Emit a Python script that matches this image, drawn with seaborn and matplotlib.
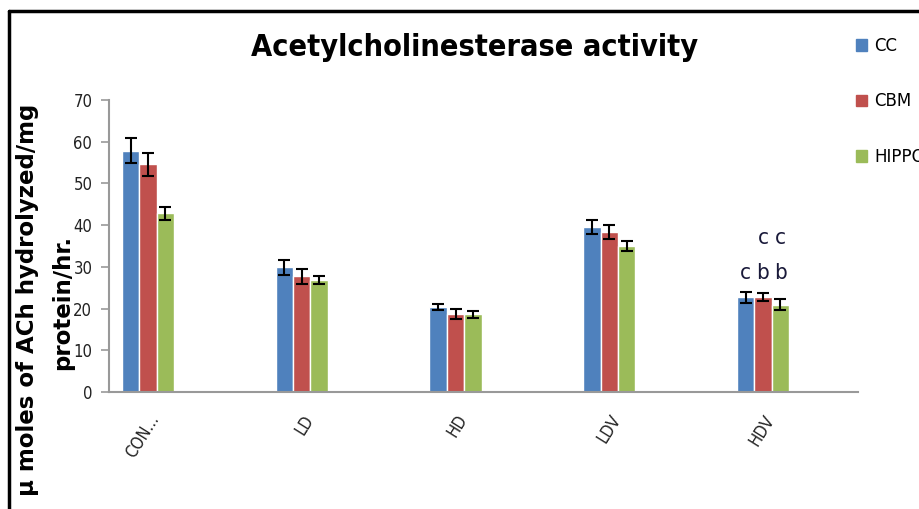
import numpy as np
import pandas as pd
import seaborn as sns
import matplotlib.pyplot as plt
from matplotlib.patches import Rectangle

# data
groups = ['CON...', 'LD', 'HD', 'LDV', 'HDV']
regions = ['CC', 'CBM', 'HIPPO']
cc = [57.8, 29.9, 20.4, 39.6, 22.7]
cbm = [54.6, 27.7, 18.6, 38.3, 22.7]
hippo = [42.8, 26.9, 18.6, 35.1, 20.9]
cc_err = [3.0, 1.8, 0.8, 1.7, 1.3]
cbm_err = [2.7, 1.7, 1.2, 1.7, 1.0]
hippo_err = [1.6, 1.0, 0.9, 1.2, 1.3]
colors = ['#4F81BD', '#C0504D', '#9BBB59']

# significance letters on HDV
letters_row1 = ['c', 'b', 'b']
letters_row2 = ['', 'c', 'c']

df = pd.DataFrame({
    'group': groups * 3,
    'region': sum([[r] * len(groups) for r in regions], []),
    'value': cc + cbm + hippo,
    'err': cc_err + cbm_err + hippo_err,
})

sns.set_style('white')
plt.rcParams['font.family'] = ['DejaVu Sans']
plt.rcParams['text.color'] = 'black'

fig = plt.figure(figsize=(9.2, 5.09), dpi=100)
ax = fig.add_axes([109 / 920, 1 - 392 / 509, (858 - 109) / 920, (392 - 100) / 509])

sns.barplot(data=df, x='group', y='value', hue='region', palette=colors,
            width=0.34, errorbar=None, saturation=1, ax=ax, legend=False)

# error bars on each bar
for i, r in enumerate(regions):
    sub = df[df['region'] == r]
    bars = ax.containers[i]
    xs = [b.get_x() + b.get_width() / 2 for b in bars]
    ax.errorbar(xs, sub['value'], yerr=sub['err'], fmt='none', ecolor='black',
                elinewidth=1.5, capsize=4, capthick=1.5)

# letters over HDV group
last = len(groups) - 1
for i in range(3):
    b = ax.containers[i][last]
    x = b.get_x() + b.get_width() / 2
    ax.text(x, 28.6, letters_row1[i], ha='center', va='center', fontsize=16,
            color='#1a1a3a', fontstretch='condensed')
    if letters_row2[i]:
        ax.text(x, 36.8, letters_row2[i], ha='center', va='center', fontsize=16,
                color='#1a1a3a', fontstretch='condensed')

ax.set_xlim(-0.254, 4.618)
ax.set_ylim(0, 70)
ax.set_yticks(range(0, 71, 10))
ax.set_xlabel('')
ax.set_ylabel('')
sns.despine(ax=ax)
for s in ['left', 'bottom']:
    ax.spines[s].set_color('#999999')
    ax.spines[s].set_linewidth(1.5)
ax.tick_params(axis='y', direction='out', length=6, width=1.2, color='#999999',
               labelsize=12, labelcolor='#222222', left=True, pad=6)
ax.tick_params(axis='x', length=0, labelsize=12, labelcolor='#222222', pad=14)
for lab in ax.get_xticklabels():
    lab.set_rotation(58)
    lab.set_ha('right')
    lab.set_rotation_mode('anchor')
    lab.set_fontstretch('condensed')
for lab in ax.get_yticklabels():
    lab.set_fontstretch('condensed')

fig.text(475 / 920, 1 - 47 / 509, 'Acetylcholinesterase activity', ha='center',
         va='center', fontsize=22, fontweight='bold', fontstretch='condensed',
         color='black')

fig.text(28 / 920, 1 - 300 / 509, 'µ moles of ACh hydrolyzed/mg', rotation=90,
         ha='center', va='center', fontsize=16.5, fontweight='bold', color='black')
fig.text(63 / 920, 1 - 302 / 509, 'protein/hr.', rotation=90,
         ha='center', va='center', fontsize=16.5, fontweight='bold', color='black')

# legend on the right
handles = [Rectangle((0, 0), 1, 1, color=c) for c in colors]
fig.legend(handles, regions, loc='upper left', bbox_to_anchor=(849 / 920, 1 - 30 / 509),
           frameon=False, fontsize=12, handlelength=0.7, handleheight=0.7,
           handletextpad=0.4, labelspacing=2.25, borderaxespad=0)

# border of the original picture
fig.add_artist(plt.Line2D([9 / 920, 9 / 920], [0, 1 - 11 / 509], color='black', lw=2.5))
fig.add_artist(plt.Line2D([9 / 920, 1], [1 - 11 / 509, 1 - 11 / 509], color='black', lw=2.5))

fig.savefig('out.png', dpi=100)
